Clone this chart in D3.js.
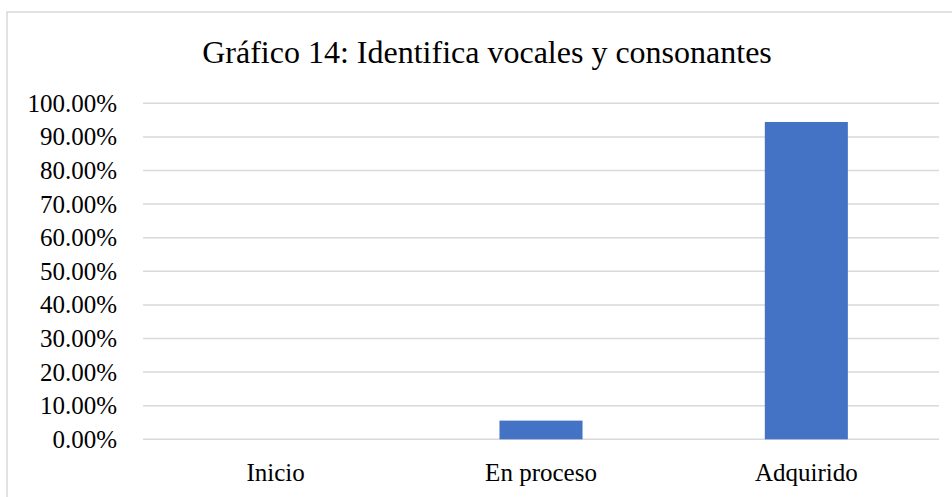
<!DOCTYPE html>
<html>
<head>
<meta charset="utf-8">
<script src="https://cdn.jsdelivr.net/npm/d3@7"></script>
<style>
  body { margin: 0; background: #fff; }
  svg { display: block; }
</style>
</head>
<body>
<svg id="chart"></svg>
<script>
// Datos del gráfico
const categories = ["Inicio", "En proceso", "Adquirido"];
const values = [0, 0.0556, 0.9444];
const yTicks = [0, 0.1, 0.2, 0.3, 0.4, 0.5, 0.6, 0.7, 0.8, 0.9, 1.0];
const title = "Gráfico 14: Identifica vocales y consonantes";

const width = 952, height = 497;
const margin = { top: 103.3, right: 13, bottom: 57.7, left: 143 };
const font = "Liberation Serif";

const svg = d3.select("#chart")
    .attr("width", width)
    .attr("height", height);

// marco del gráfico
svg.append("rect")
    .attr("x", 7)
    .attr("y", 12)
    .attr("width", width)
    .attr("height", height)
    .style("fill", "none")
    .style("stroke", "#d9d9d9")
    .style("stroke-width", 1.5);

const x = d3.scaleBand()
    .domain(categories)
    .range([margin.left, width - margin.right])
    .paddingInner(0.687)
    .paddingOuter(0.3435);

const y = d3.scaleLinear()
    .domain([0, 1])
    .range([height - margin.bottom, margin.top]);

// Líneas de cuadrícula
svg.append("g")
    .selectAll("line")
    .data(yTicks)
    .enter()
    .append("line")
    .attr("x1", margin.left)
    .attr("x2", width - margin.right)
    .attr("y1", d => y(d))
    .attr("y2", d => y(d))
    .style("stroke", "#d9d9d9")
    .style("stroke-width", 1.5);

// Etiquetas del eje Y
svg.append("g")
    .selectAll("text")
    .data(yTicks)
    .enter()
    .append("text")
    .attr("x", 117)
    .attr("y", d => y(d))
    .attr("dy", "0.34em")
    .attr("text-anchor", "end")
    .attr("font-family", font)
    .attr("font-size", 25)
    .style("fill", "#000")
    .text(d => d3.format(".2%")(d));

// Barras
svg.append("g")
    .selectAll("rect")
    .data(values)
    .enter()
    .append("rect")
    .attr("x", (d, i) => x(categories[i]))
    .attr("width", x.bandwidth())
    .attr("y", d => y(d))
    .attr("height", d => y(0) - y(d))
    .style("fill", "#4472c4");

// Etiquetas de categorías
svg.append("g")
    .selectAll("text")
    .data(categories)
    .enter()
    .append("text")
    .attr("x", d => x(d) + x.bandwidth() / 2)
    .attr("y", 480.7)
    .attr("text-anchor", "middle")
    .attr("font-family", font)
    .attr("font-size", 25)
    .style("fill", "#000")
    .text(d => d);

// Título
svg.append("text")
    .attr("x", 487)
    .attr("y", 62.7)
    .attr("text-anchor", "middle")
    .attr("font-family", font)
    .attr("font-size", 32)
    .style("fill", "#000")
    .text(title);
</script>
</body>
</html>
